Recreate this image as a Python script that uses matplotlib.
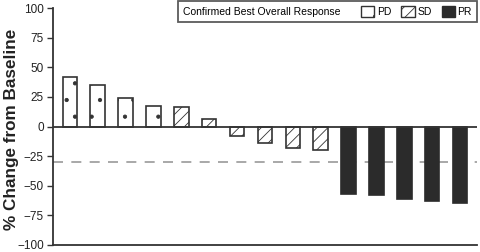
import matplotlib
matplotlib.use("Agg")
import matplotlib.pyplot as plt
from matplotlib.patches import Patch
from matplotlib.offsetbox import HPacker

plt.rcParams['font.family'] = ['Liberation Sans', 'DejaVu Sans']
plt.rcParams['hatch.linewidth'] = 0.6

values = [42, 35, 24, 17.5, 16.5, 6.5, -8, -14, -18, -20, -57, -58, -61, -63, -65]
responses = ['PD'] * 4 + ['SD'] * 6 + ['PR'] * 5
yticks = [100, 75, 50, 25, 0, -25, -50, -75, -100]
threshold = -30
legend_title = 'Confirmed Best Overall Response'
legend_labels = ['PD', 'SD', 'PR']

styles = {
    'PD': dict(facecolor='white', edgecolor='#333333', hatch='.'),
    'SD': dict(facecolor='white', edgecolor='#333333', hatch='///'),
    'PR': dict(facecolor='#2b2b2b', edgecolor='#2b2b2b', hatch=None),
}

fig = plt.figure(figsize=(4.8, 2.52), dpi=100)
ax = fig.add_axes([0.110, 0.028, 0.884, 0.940])

x = list(range(len(values)))
for xi, v, r in zip(x, values, responses):
    ax.bar(xi, v, width=0.52, linewidth=1.2, **styles[r], zorder=3)

ax.axhline(0, color='#333333', linewidth=1.3, zorder=4)
ax.axhline(threshold, color='#999999', linewidth=1.2, dashes=(6, 5), zorder=2)

ax.set_xlim(-0.61, len(values) - 1 + 0.61)
ax.set_ylim(-100, 100)
ax.set_yticks(yticks)
ax.set_yticklabels([str(t).replace('-', '\u2212') for t in yticks], fontsize=8.5)
ax.set_xticks([])
ax.tick_params(axis='y', direction='out', length=4.5, width=1, pad=2,
               colors='#333333', labelcolor='#222222')
for s in ['top', 'right']:
    ax.spines[s].set_visible(False)
for s in ['left', 'bottom']:
    ax.spines[s].set_color('#333333')
    ax.spines[s].set_linewidth(1.3)

fig.text(12 / 480, 1 - 129 / 252, '% Change from Baseline', rotation=90, fontsize=12.3,
         fontweight='bold', color='#222222', ha='center', va='center')

handles = [Patch(linewidth=1.0, **styles[r]) for r in legend_labels]
leg = ax.legend(handles, legend_labels, title=legend_title, title_fontsize=7.5,
                loc='upper right', ncol=3, fontsize=7.5, frameon=True, fancybox=False,
                edgecolor='#333333', handlelength=1.25, handleheight=1.25, handletextpad=0.25,
                columnspacing=1.0, borderpad=0.5, borderaxespad=0,
                bbox_to_anchor=(1.0, 1.03))
leg.get_frame().set_linewidth(1.3)
old = leg._legend_box
new = HPacker(pad=old.pad, sep=15, align='bottom', children=old.get_children())
new.set_figure(fig)
new.axes = ax
leg._legend_box = new
new.set_offset(leg._findoffset)

fig.savefig('out.png', dpi=100)
